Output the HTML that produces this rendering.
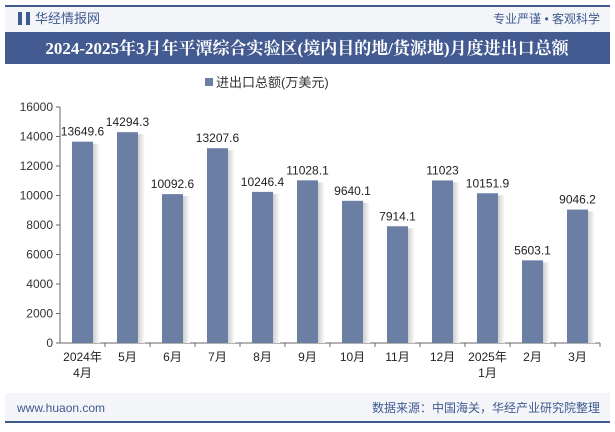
<!DOCTYPE html>
<html><head><meta charset="utf-8"><style>
body{margin:0;width:615px;height:427px;overflow:hidden;background:#fff;font-family:"Liberation Sans","Noto Sans CJK SC",sans-serif;}
</style></head><body>
<svg width="615" height="427" xmlns="http://www.w3.org/2000/svg" font-family="Liberation Sans, Noto Sans CJK SC, sans-serif">
<defs><linearGradient id="sh" x1="0" x2="1" y1="0" y2="0"><stop offset="0" stop-color="#cfcfcf"/><stop offset="1" stop-color="#ffffff"/></linearGradient></defs>
<rect x="5" y="5" width="605" height="27" fill="#f3f5f9"/>
<rect x="5" y="5" width="605" height="2" fill="#3f5a8f"/>
<rect x="18" y="12" width="4" height="13" fill="#3f5a8f"/><rect x="26" y="12" width="4" height="13" fill="#3f5a8f"/>
<text x="35" y="23" font-size="13" fill="#3f5a8f">华经情报网</text>
<text x="600" y="23" font-size="12" fill="#3f5a8f" text-anchor="end">专业严谨 • 客观科学</text>
<rect x="5" y="32" width="605" height="32" fill="#435b91"/>
<text x="307" y="54" font-size="17" font-weight="bold" fill="#fff" text-anchor="middle" font-family="Liberation Serif, Noto Serif CJK SC, serif">2024-2025年3月年平潭综合实验区(境内目的地/货源地)月度进出口总额</text>
<rect x="205" y="78" width="8" height="8" fill="#6b7ea4"/>
<text x="216" y="87" font-size="13" fill="#333">进出口总额(万美元)</text>
<g id="chart"></g>
<rect x="5" y="393" width="605" height="30" fill="#f3f5f9"/>
<rect x="5" y="421" width="605" height="2" fill="#3f5a8f"/>
<text x="17" y="412" font-size="12" fill="#3f5a8f">www.huaon.com</text>
<text x="600" y="412" font-size="12" fill="#3f5a8f" text-anchor="end">数据来源：中国海关，华经产业研究院整理</text>
</svg>
<script>
const categories=["2024年|4月","5月","6月","7月","8月","9月","10月","11月","12月","2025年|1月","2月","3月"];
const values=[13649.6,14294.3,10092.6,13207.6,10246.4,11028.1,9640.1,7914.1,11023,10151.9,5603.1,9046.2];
const valueLabels=["13649.6","14294.3","10092.6","13207.6","10246.4","11028.1","9640.1","7914.1","11023","10151.9","5603.1","9046.2"];
const yTicks=[0,2000,4000,6000,8000,10000,12000,14000,16000];
const NS="http://www.w3.org/2000/svg";
const g=document.getElementById('chart');
const x0=60,x1=600,yb=343,yt=107,ymax=16000;
const bw=(x1-x0)/categories.length;
const y=v=>yb-(v/ymax)*(yb-yt);
const xc=i=>x0+bw*(i+0.5);
function mk(t,a){const e=document.createElementNS(NS,t);for(const k in a)e.setAttribute(k,a[k]);g.appendChild(e);return e;}
yTicks.forEach(t=>{
 const tl=mk('line',{x1:x0-4,x2:x0,y1:y(t),y2:y(t),stroke:'#666'});
 
 
 const tx=mk('text',{x:x0-7,y:y(t)+4,'font-size':12,fill:'#333','text-anchor':'end'});
 tx.textContent=t;
 
 
});
const ya=mk('line',{x1:x0,x2:x0,y1:yt,y2:yb,stroke:'#666'});


const xa=mk('line',{x1:x0,x2:x1,y1:yb,y2:yb,stroke:'#666'});


categories.forEach((c,i)=>{
 const sh=mk('rect',{x:xc(i)+10.5,y:y(values[i])+2,width:7,height:yb-y(values[i])-2,fill:'url(#sh)'});
 
 
 const b=mk('rect',{x:xc(i)-10.5,y:y(values[i]),width:21,height:yb-y(values[i]),fill:'#6b7ea4'});
 
 
 const vl=mk('text',{x:xc(i),y:y(values[i])-6,'font-size':12,fill:'#222','text-anchor':'middle'});
 vl.textContent=valueLabels[i];
 
 
 const tk=mk('line',{x1:x0+bw*(i+1),x2:x0+bw*(i+1),y1:yb,y2:yb+4,stroke:'#666'});
 
 
 c.split('|').forEach((p,j)=>{
  const t=mk('text',{x:xc(i),y:yb+18+j*16,'font-size':12,fill:'#222','text-anchor':'middle'});
  t.textContent=p;
  
  
 });
});
</script>
</body></html>
